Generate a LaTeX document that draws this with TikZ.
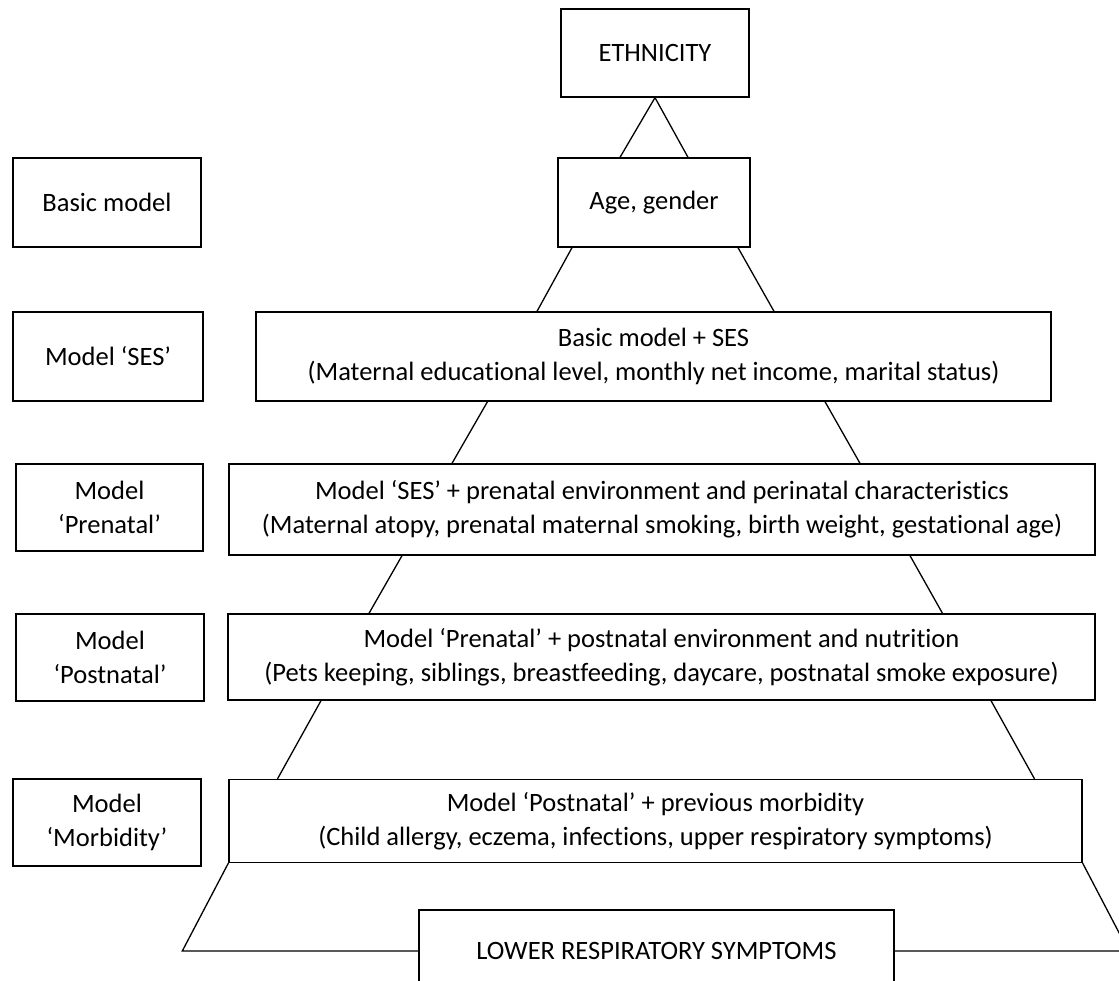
\documentclass[tikz,border=0pt]{standalone}
\usepackage{fontspec}
\setmainfont[Ligatures=NoCommon]{Carlito}
\begin{document}
\begin{tikzpicture}[x=1pt,y=-1pt,
  box/.style={draw=black,line width=1.3pt,fill=white,align=center,inner sep=0pt,
    font=\fontsize{26.5}{34}\selectfont},
  conn/.style={draw=black,line width=1.3pt}]
\useasboundingbox (0,0) rectangle (1119,981);
\clip (0,0) rectangle (1119,981);
% main column
\node[box,minimum width=188,minimum height=88] (eth) at (655,53) {ETHNICITY};
\node[box,minimum width=192,minimum height=89] (age) at (654,202.5) {Age, gender};
\node[box,minimum width=795,minimum height=89] (ses) at (653.5,356.5)
  {Basic model + SES\\(Maternal educational level, monthly net income, marital status)};
\node[box,minimum width=866,minimum height=91] (pre) at (662,509.5)
  {Model ‘SES’ + prenatal environment and perinatal characteristics\\(Maternal atopy, prenatal maternal smoking, birth weight, gestational age)};
\node[box,minimum width=867,minimum height=86] (post) at (661.5,657)
  {Model ‘Prenatal’ + postnatal environment and nutrition\\(Pets keeping, siblings, breastfeeding, daycare, postnatal smoke exposure)};
\node[box,minimum width=853,minimum height=83] (morb) at (655.5,821)
  {Model ‘Postnatal’ + previous morbidity\\(Child allergy, eczema, infections, upper respiratory symptoms)};
\node[box,minimum width=475,minimum height=82] (low) at (656.5,951) {LOWER RESPIRATORY SYMPTOMS};
% left labels
\node[box,minimum width=188,minimum height=89] (l1) at (107,202.5) {Basic model};
\node[box,minimum width=190,minimum height=89] (l2) at (108,356.5) {Model ‘SES’};
\node[box,minimum width=187,minimum height=87] (l3) at (109.5,507.5) {Model\\‘Prenatal’};
\node[box,minimum width=188,minimum height=87] (l4) at (110,657.5) {Model\\‘Postnatal’};
\node[box,minimum width=188,minimum height=87] (l5) at (107,822.5) {Model\\‘Morbidity’};
% connectors
\draw[conn] ([xshift=-34]age.north) -- (eth.south) -- ([xshift=34]age.north);
\draw[conn] ([xshift=-82]age.south) -- ([xshift=-116.5]ses.north);
\draw[conn] ([xshift=84]age.south) -- ([xshift=120.5]ses.north);
\draw[conn] ([xshift=-166]ses.south) -- ([xshift=-210]pre.north);
\draw[conn] ([xshift=171.5]ses.south) -- ([xshift=198]pre.north);
\draw[conn] ([xshift=-260]pre.south) -- ([xshift=-292.5]post.north);
\draw[conn] ([xshift=248]pre.south) -- ([xshift=281]post.north);
\draw[conn] ([xshift=-340.5]post.south) -- ([xshift=-378]morb.north);
\draw[conn] ([xshift=329.5]post.south) -- ([xshift=379]morb.north);
\coordinate (cl) at (182.3,951);
\coordinate (cr) at (1128.6,951);
\draw[conn] (morb.south west) -- (cl) -- (low.west);
\draw[conn] (morb.south east) -- (cr) -- (low.east);
\end{tikzpicture}
\end{document}
